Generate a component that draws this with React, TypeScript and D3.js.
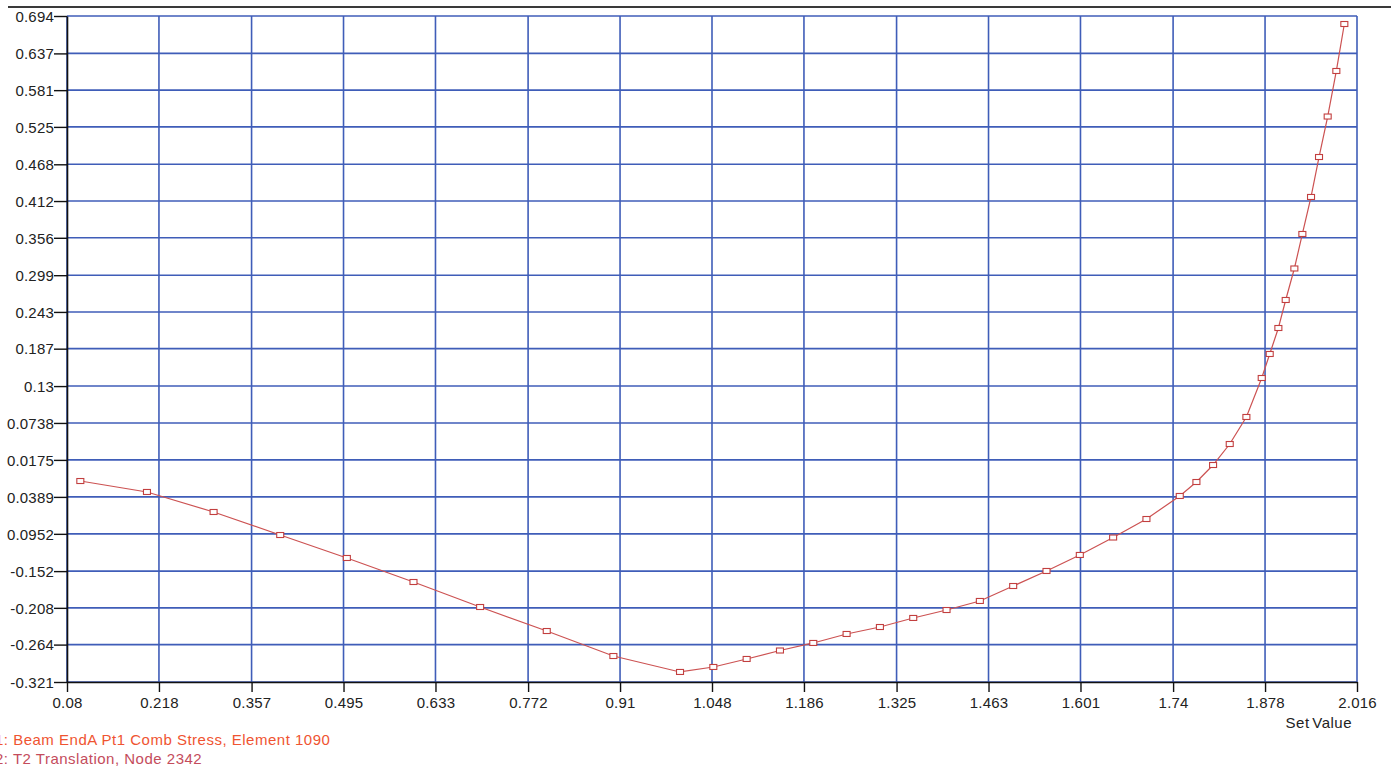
import * as d3 from 'd3';
import { useEffect, useRef } from 'react';

// Set Value (x) readings along the curve
const setValues = [
    0.1, 0.2, 0.3, 0.4, 0.5, 0.6, 0.7, 0.8, 0.9, 1.0,
    1.05, 1.1, 1.15, 1.2, 1.25, 1.3, 1.35, 1.4, 1.45, 1.5, 1.55, 1.6, 1.65, 1.7, 1.75,
    1.775, 1.8, 1.825, 1.85, 1.873,
    1.885, 1.898, 1.909, 1.922, 1.934, 1.947, 1.959, 1.972, 1.985, 1.997,
];

// Beam EndA Pt1 Comb Stress values
const stressValues = [
    -0.0147, -0.0314, -0.0619, -0.0970, -0.1320, -0.1686, -0.2067, -0.2433, -0.2814, -0.3057,
    -0.2981, -0.2859, -0.2730, -0.2615, -0.2478, -0.2372, -0.2234, -0.2113, -0.1975, -0.1747,
    -0.1518, -0.1274, -0.1008, -0.0726, -0.0375,
    -0.0162, 0.0097, 0.0417, 0.0829, 0.1423,
    0.1789, 0.2185, 0.2612, 0.3092, 0.3618, 0.4182, 0.4791, 0.5408, 0.6102, 0.6818,
];

const xTicks = [0.08, 0.218, 0.357, 0.495, 0.633, 0.772, 0.91, 1.048, 1.186, 1.325, 1.463, 1.601, 1.74, 1.878, 2.016];

const yTicks = [0.694, 0.637, 0.581, 0.525, 0.468, 0.412, 0.356, 0.299, 0.243, 0.187, 0.13, 0.0738, 0.0175, -0.0389, -0.0952, -0.152, -0.208, -0.264, -0.321];
// labels as printed on the chart (the two small negatives lost their sign)
const yTickLabels = ['0.694', '0.637', '0.581', '0.525', '0.468', '0.412', '0.356', '0.299', '0.243', '0.187', '0.13', '0.0738', '0.0175', '0.0389', '0.0952', '-0.152', '-0.208', '-0.264', '-0.321'];

const legendLabels = ['1: Beam EndA Pt1 Comb Stress, Element 1090', '2: T2 Translation, Node 2342'];
const legendColors = ['#ef5431', '#c44c5c'];

const margin = { top: 16, right: 34, bottom: 87, left: 67 };

const chartWidth = 1391;
const chartHeight = 769;
const FONT = '"Liberation Sans", Arial, sans-serif';

function App() {
    const gridRef = useRef<SVGGElement>(null);
    const xAxis = useRef<SVGGElement>(null);
    const yAxis = useRef<SVGGElement>(null);
    const plotRef = useRef<SVGGElement>(null);

    const drawWidth = chartWidth - margin.left - margin.right;
    const drawHeight = chartHeight - margin.top - margin.bottom;

    useEffect(() => {
        const xScale = d3.scaleLinear().domain([0.08, 2.016]).range([0, drawWidth]);
        const yScale = d3.scaleLinear().domain([-0.321, 0.694]).range([drawHeight, 0]);

        // grid
        const grid = d3.select(gridRef.current);
        grid.selectAll('*').remove();
        grid.selectAll('line.v').data(xTicks).enter().append('line')
            .attr('x1', d => xScale(d)).attr('x2', d => xScale(d))
            .attr('y1', 0).attr('y2', drawHeight)
            .attr('stroke', '#3f5db8').attr('stroke-width', 1.6);
        grid.selectAll('line.h').data(yTicks).enter().append('line')
            .attr('x1', 0).attr('x2', drawWidth)
            .attr('y1', d => yScale(d)).attr('y2', d => yScale(d))
            .attr('stroke', '#3f5db8').attr('stroke-width', 1.6);

        // axes
        const axisBottom = d3.axisBottom(xScale).tickValues(xTicks).tickSize(10).tickSizeOuter(0)
            .tickFormat(d => String(d));
        const axisLeft = d3.axisLeft(yScale).tickValues(yTicks).tickSize(13).tickSizeOuter(0)
            .tickFormat((_d, i) => yTickLabels[i]);

        const gx = d3.select(xAxis.current).call(axisBottom);
        const gy = d3.select(yAxis.current).call(axisLeft);
        [gx, gy].forEach(g => {
            g.attr('font-family', FONT).attr('font-size', 15);
            g.select('.domain').attr('stroke', '#111').attr('stroke-width', 1.6);
            g.selectAll('.tick line').attr('stroke', '#111').attr('stroke-width', 1.4);
            g.selectAll('.tick text').attr('fill', '#222').attr('letter-spacing', '0.2');
        });
        gx.selectAll('.tick text').attr('y', 26).attr('dy', 0);
        gy.selectAll('.tick text').attr('x', -13).attr('dy', '0.35em');

        // series
        const pts = setValues.map((x, i) => ({ x, y: stressValues[i] }));
        const plot = d3.select(plotRef.current);
        plot.selectAll('*').remove();
        const line = d3.line<{ x: number; y: number }>().x(d => xScale(d.x)).y(d => yScale(d.y));
        plot.append('path').datum(pts)
            .attr('d', line)
            .attr('fill', 'none').attr('stroke', '#cc5252').attr('stroke-width', 1.2);
        plot.selectAll('rect').data(pts).enter().append('rect')
            .attr('x', d => xScale(d.x) - 3.5)
            .attr('y', d => yScale(d.y) - 2.5)
            .attr('width', 7).attr('height', 5)
            .attr('fill', '#fff').attr('stroke', '#c23f3f').attr('stroke-width', 1.1);
    }, [drawHeight, drawWidth]);

    return <svg width={chartWidth} height={chartHeight}
        style={{ position: 'absolute', left: 0, top: 0, background: '#fff' }}>
        <line x1={8} x2={chartWidth} y1={7} y2={7} stroke="#3a3a3a" strokeWidth={1.8} />
        <g transform={`translate(${margin.left}, ${margin.top})`} ref={gridRef}></g>
        <g transform={`translate(${margin.left}, ${margin.top + drawHeight})`} ref={xAxis}></g>
        <g transform={`translate(${margin.left}, ${margin.top})`} ref={yAxis}></g>
        <g transform={`translate(${margin.left}, ${margin.top})`} ref={plotRef}></g>
        <text x={chartWidth - 39} y={728} textAnchor="end" fontFamily={FONT} fontSize={15}
            fill="#222" letterSpacing="0.5" wordSpacing="-2">Set Value</text>
        {legendLabels.map((label, i) =>
            <text key={label} x={-5} y={745 + i * 19} fontFamily={FONT} fontSize={15}
                fill={legendColors[i]} letterSpacing="0.5">{label}</text>
        )}
    </svg>
};

export default App;
